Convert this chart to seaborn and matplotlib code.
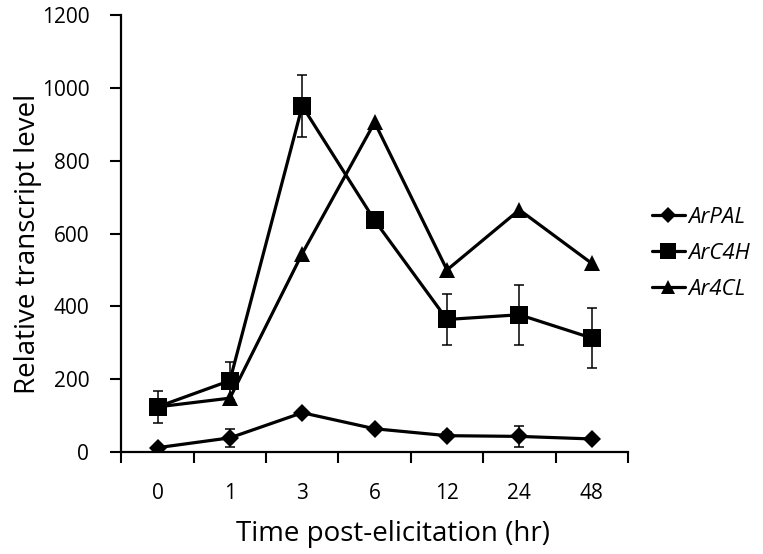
import numpy as np
import pandas as pd
import seaborn as sns
import matplotlib.pyplot as plt
from matplotlib.lines import Line2D

times = ["0", "1", "3", "6", "12", "24", "48"]
genes = ["ArPAL", "ArC4H", "Ar4CL"]

pal = [12, 39, 108, 64, 45, 43, 36]
pal_err = [0, 25, 0, 0, 9, 29, 0]
c4h = [124, 196, 950, 636, 364, 377, 313]
c4h_err = [44, 52, 85, 0, 70, 83, 83]
cl4 = [124, 148, 545, 905, 500, 665, 518]

sns.set_theme(style="ticks")
plt.rcParams["font.family"] = ["Open Sans", "DejaVu Sans"]
plt.rcParams["text.color"] = "black"
plt.rcParams["axes.labelcolor"] = "black"
plt.rcParams["xtick.color"] = "black"
plt.rcParams["ytick.color"] = "black"
plt.rcParams["axes.edgecolor"] = "black"

pos = np.arange(len(times))
data = pd.DataFrame({
    "pos": np.tile(pos, 3),
    "value": pal + c4h + cl4,
    "gene": np.repeat(genes, len(times)),
})

fig = plt.figure(figsize=(7.63, 5.54), dpi=100)
ax = fig.add_axes([0.159, 0.184, 0.664, 0.789])

markers = {"ArPAL": "D", "ArC4H": "s", "Ar4CL": "^"}
sizes = {"ArPAL": 9, "ArC4H": 13, "Ar4CL": 12}

# error bars first so markers sit on top
ax.errorbar(pos, pal, yerr=pal_err, fmt="none", ecolor="black",
            elinewidth=1.1, capsize=3.5, capthick=1.1, zorder=2)
ax.errorbar(pos, c4h, yerr=c4h_err, fmt="none", ecolor="black",
            elinewidth=1.1, capsize=3.5, capthick=1.1, zorder=2)

for g in genes:
    sns.lineplot(data=data[data["gene"] == g], x="pos", y="value",
                 color="black", linewidth=2.3, marker=markers[g],
                 markersize=sizes[g], markeredgewidth=0, ax=ax,
                 zorder=3, legend=False)

ax.set_xlim(-0.5, 6.5)
ax.set_ylim(0, 1200)
ax.set_yticks(range(0, 1201, 200))
ax.set_xticks(np.arange(-0.5, 7, 1))
ax.set_xticklabels([])
ax.set_xticks(pos, minor=True)
ax.set_xticklabels(times, minor=True)
ax.tick_params(axis="x", which="major", direction="out", length=8, width=1.5)
ax.tick_params(axis="x", which="minor", length=0, pad=22, labelsize=15)
ax.tick_params(axis="y", direction="out", length=8, width=1.5, labelsize=15, pad=15)

for s in ["left", "bottom"]:
    ax.spines[s].set_linewidth(1.6)
sns.despine(ax=ax)

ax.set_xlabel("Time post-elicitation (hr)", fontsize=20, labelpad=12)
ax.set_ylabel("Relative transcript level", fontsize=20, labelpad=0)
ax.xaxis.label.set_x(0.536)
ax.yaxis.label.set_y(0.476)

handles = [Line2D([0], [0], color="black", linewidth=2.3, marker=markers[g],
                  markersize=sizes[g] * 0.85, markeredgewidth=0) for g in genes]
leg = fig.legend(handles, genes, loc="center left",
                 bbox_to_anchor=(0.855, 0.543), frameon=False,
                 borderpad=0, borderaxespad=0,
                 handlelength=1.45, handletextpad=0.15, labelspacing=0.68,
                 prop={"style": "italic", "size": 16})

fig.savefig("out.png", dpi=100)
